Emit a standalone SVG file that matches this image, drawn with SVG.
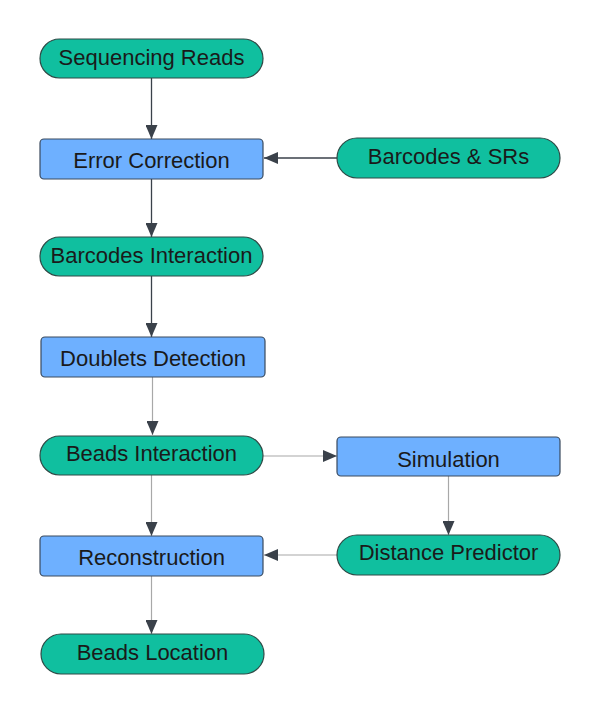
<svg xmlns="http://www.w3.org/2000/svg" width="600" height="714" viewBox="0 0 600 714">
<defs>
<marker id="ah" viewBox="0 0 14 12" refX="14" refY="6" markerWidth="14" markerHeight="12" markerUnits="userSpaceOnUse" orient="auto">
<path d="M0,0 L14,6 L0,12 Z" fill="#3a414a"/>
</marker>
<style>
.pill{fill:#10bf9f;stroke:#2f4a46;stroke-width:1.2}
.box{fill:#6eb0ff;stroke:#3a4a5e;stroke-width:1.2}
.t{font-family:"Liberation Sans",Arial,sans-serif;font-size:22px;fill:#1a1a1a;text-anchor:middle;dominant-baseline:central}
.c{fill:none;stroke:#3a414a;stroke-width:1.3;marker-end:url(#ah)}
.cl{fill:none;stroke:#a8a8a8;stroke-width:1.2;marker-end:url(#ah)}
</style>
</defs>
<rect width="600" height="714" fill="#ffffff"/>
<g id="connectors">
<path class="c" d="M151.5,78 V139"/>
<path class="c" d="M337,158 H264"/>
<path class="c" d="M151.5,179 V237"/>
<path class="c" d="M151.5,276 V337"/>
<path class="cl" d="M152.5,377 V435"/>
<path class="cl" d="M263,456 H337"/>
<path class="cl" d="M151.5,475 V536"/>
<path class="cl" d="M448.5,476 V535"/>
<path class="cl" d="M337,555 H264"/>
<path class="cl" d="M151.5,576 V634"/>
</g>
<g id="n-sequencing-reads">
<rect class="pill" x="40" y="39" width="223" height="39" rx="19.5"/>
<text class="t" x="151.5" y="57.5">Sequencing Reads</text>
</g>
<g id="n-error-correction">
<rect class="box" x="40" y="139" width="223" height="40" rx="4"/>
<text class="t" x="151.5" y="160">Error Correction</text>
</g>
<g id="n-barcodes-srs">
<rect class="pill" x="337" y="138" width="223" height="40" rx="20"/>
<text class="t" x="448.5" y="156.5">Barcodes &amp; SRs</text>
</g>
<g id="n-barcodes-interaction">
<rect class="pill" x="40" y="237" width="223" height="39" rx="19.5"/>
<text class="t" x="151.5" y="255">Barcodes Interaction</text>
</g>
<g id="n-doublets-detection">
<rect class="box" x="41" y="337" width="224" height="40" rx="4"/>
<text class="t" x="153" y="358.5">Doublets Detection</text>
</g>
<g id="n-beads-interaction">
<rect class="pill" x="40" y="436" width="223" height="39" rx="19.5"/>
<text class="t" x="151.5" y="453.5">Beads Interaction</text>
</g>
<g id="n-simulation">
<rect class="box" x="337" y="437" width="223" height="39" rx="4"/>
<text class="t" x="448.5" y="459">Simulation</text>
</g>
<g id="n-reconstruction">
<rect class="box" x="40" y="536" width="223" height="40" rx="4"/>
<text class="t" x="151.5" y="557.5">Reconstruction</text>
</g>
<g id="n-distance-predictor">
<rect class="pill" x="337" y="535" width="223" height="40" rx="20"/>
<text class="t" x="448.5" y="552.5">Distance Predictor</text>
</g>
<g id="n-beads-location">
<rect class="pill" x="41" y="634" width="223" height="40" rx="20"/>
<text class="t" x="152.5" y="652.5">Beads Location</text>
</g>
</svg>
